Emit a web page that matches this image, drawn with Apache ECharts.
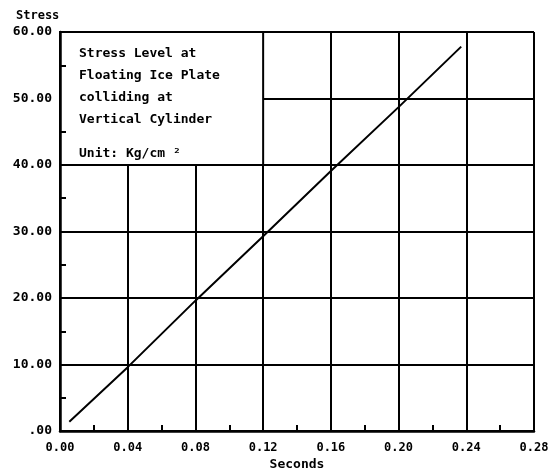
<!DOCTYPE html>
<html>
<head>
<meta charset="utf-8">
<script src="https://cdn.jsdelivr.net/npm/echarts@6/dist/echarts.min.js"></script>
<style>html,body{margin:0;padding:0;background:#fff}#c{width:553px;height:471px}</style>
</head>
<body>
<div id="c"></div>
<script>
// Data
const seconds = [0.0055, 0.04, 0.08, 0.12, 0.16, 0.20, 0.237];
const stress  = [1.4, 9.6, 19.6, 29.3, 39.1, 48.7, 57.8];
const xTicks = ['0.00','0.04','0.08','0.12','0.16','0.20','0.24','0.28'];
const yTicks = ['.00','10.00','20.00','30.00','40.00','50.00','60.00'];
const noteLines = ['Stress Level at','Floating Ice Plate','colliding at','Vertical Cylinder'];
const unitText = 'Unit: Kg/cm \u00b2';

const FONT = 'DejaVu Sans Mono';
const chart = echarts.init(document.getElementById('c'), null, {renderer:'canvas'});
const xIdx = v => Math.round(v / 0.04);
const yIdx = v => Math.round(v / 10);

const gridAxisX = {type:'value', min:0, max:0.28, interval:0.04, gridIndex:0, position:'bottom', z:0,
  axisLine:{show:false}, axisTick:{show:false}, axisLabel:{show:false},
  splitLine:{show:true, lineStyle:{color:'#000', width:2}}};
const gridAxisY = {type:'value', min:0, max:60, interval:10, gridIndex:0, position:'left', z:0,
  axisLine:{show:false}, axisTick:{show:false}, axisLabel:{show:false},
  splitLine:{show:true, lineStyle:{color:'#000', width:2}}};

const option = {
  backgroundColor:'#fff',
  animation:false,
  title:{text:'Stress', left:11, top:5, textStyle:{fontFamily:FONT, fontWeight:'bold', fontSize:12, color:'#000'}},
  grid:{left:60, top:32, right:19, bottom:40, outerBoundsMode:'none', containLabel:false},
  xAxis:[gridAxisX, {
    type:'value', min:0, max:0.28, interval:0.04, gridIndex:0, position:'bottom', z:5,
    name:'Seconds', nameLocation:'middle', nameGap:27, nameMoveOverlap:false,
    nameTextStyle:{fontFamily:FONT, fontWeight:'bold', fontSize:13, color:'#000'},
    axisLine:{show:true, lineStyle:{color:'#000', width:2.5}},
    axisTick:{show:false, inside:true},
    minorTick:{show:true, splitNumber:2, length:6, lineStyle:{color:'#000', width:2}},
    axisLabel:{show:true, margin:11, fontFamily:FONT, fontWeight:'bold', fontSize:12, color:'#000',
      formatter:v => xTicks[xIdx(v)]},
    splitLine:{show:false}
  }],
  yAxis:[gridAxisY, {
    type:'value', min:0, max:60, interval:10, gridIndex:0, position:'left', z:5,
    axisLine:{show:true, lineStyle:{color:'#000', width:2.5}},
    axisTick:{show:false, inside:true},
    minorTick:{show:true, splitNumber:2, length:6, lineStyle:{color:'#000', width:2}},
    axisLabel:{show:true, margin:8, fontFamily:FONT, fontWeight:'bold', fontSize:13, color:'#000',
      formatter:v => yTicks[yIdx(v)]},
    splitLine:{show:false}
  }],
  series:[{
    type:'line', xAxisIndex:0, yAxisIndex:0, z:2,
    data: seconds.map((s,i)=>[s, stress[i]]),
    symbol:'none', lineStyle:{color:'#000', width:2},
    markArea:{silent:true,
      itemStyle:{color:'#fff', opacity:1, borderColor:'#000', borderWidth:2},
      data:[[{xAxis:0, yAxis:40},{xAxis:0.12, yAxis:60}]]}
  }],
  graphic:[
    {type:'text', left:79, top:43, z:10, style:{text:noteLines.join('\n'), lineHeight:22,
      font:'bold 13px "'+FONT+'"', fill:'#000'}},
    {type:'text', left:79, top:143, z:10, style:{text:unitText, lineHeight:22,
      font:'bold 13px "'+FONT+'"', fill:'#000'}}
  ]
};
chart.setOption(option);
</script>
</body>
</html>
